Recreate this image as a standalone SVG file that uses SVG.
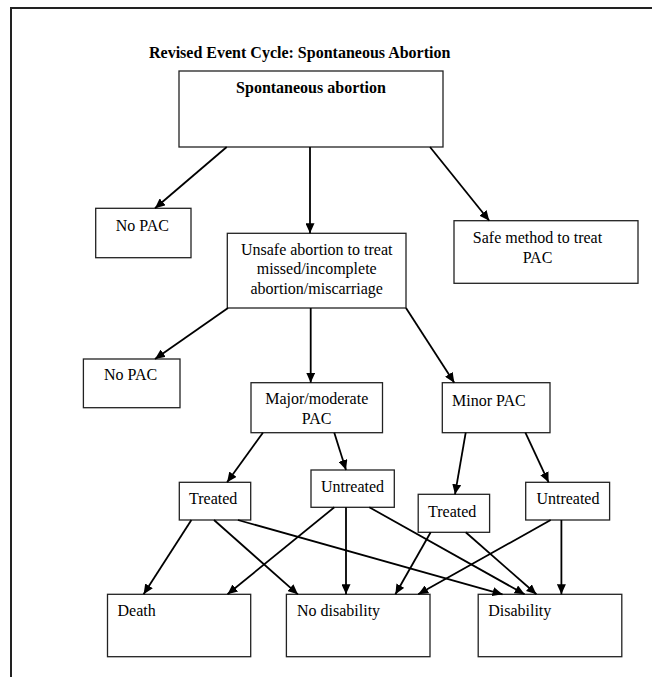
<svg xmlns="http://www.w3.org/2000/svg" width="652" height="677" viewBox="0 0 652 677">
<style>
.box{fill:#fff;stroke:#222;stroke-width:1.3}
.t{font-family:"Liberation Serif","Times New Roman",serif;font-size:16px;fill:#000}
.b{font-weight:bold}
.m{text-anchor:middle}
.c{fill:none;stroke:#000;stroke-width:1.8}
</style>
<defs>
<marker id="ah" markerUnits="userSpaceOnUse" markerWidth="11" markerHeight="9" refX="10" refY="4.5" orient="auto">
<path d="M0,0 L10,4.5 L0,9 z" fill="#000"/>
</marker>
</defs>
<rect x="0" y="0" width="652" height="677" fill="#fff"/>
<path d="M11,677 V8 H652" fill="none" stroke="#222" stroke-width="2"/>
<text class="t b" x="149" y="58">Revised Event Cycle: Spontaneous Abortion</text>

<g id="n-top"><rect class="box" x="179" y="71" width="264" height="76"/><text class="t b m" x="311" y="93">Spontaneous abortion</text></g>
<g id="n-nopac1"><rect class="box" x="95.7" y="208.3" width="95.3" height="49.4"/><text class="t" x="115.7" y="230.5">No PAC</text></g>
<g id="n-unsafe"><rect class="box" x="227.3" y="233.3" width="178.7" height="74.7"/><text class="t m" x="316.7" y="254.5">Unsafe abortion to treat</text><text class="t m" x="316.7" y="274">missed/incomplete</text><text class="t m" x="316.7" y="293.5">abortion/miscarriage</text></g>
<g id="n-safe"><rect class="box" x="454" y="220.7" width="184" height="62.6"/><text class="t m" x="537.5" y="242.5">Safe method to treat</text><text class="t m" x="537.5" y="263">PAC</text></g>
<g id="n-nopac2"><rect class="box" x="83.4" y="359" width="96.6" height="48.7"/><text class="t" x="104" y="380">No PAC</text></g>
<g id="n-major"><rect class="box" x="251" y="382.7" width="131.5" height="50"/><text class="t m" x="316.7" y="404">Major/moderate</text><text class="t m" x="316.7" y="423.5">PAC</text></g>
<g id="n-minor"><rect class="box" x="442.3" y="382.7" width="107.7" height="50"/><text class="t" x="452" y="405.5">Minor PAC</text></g>
<g id="n-treated1"><rect class="box" x="179.3" y="482.3" width="71.4" height="37.7"/><text class="t" x="189" y="504">Treated</text></g>
<g id="n-untreated1"><rect class="box" x="311" y="470" width="83.3" height="37.3"/><text class="t" x="321" y="492">Untreated</text></g>
<g id="n-treated2"><rect class="box" x="418.2" y="494.3" width="71.4" height="38"/><text class="t" x="428" y="516.5">Treated</text></g>
<g id="n-untreated2"><rect class="box" x="525.7" y="482.3" width="83.9" height="37.7"/><text class="t" x="536.4" y="504">Untreated</text></g>
<g id="n-death"><rect class="box" x="107.5" y="594.3" width="143.2" height="62.4"/><text class="t" x="117.5" y="615.5">Death</text></g>
<g id="n-nodis"><rect class="box" x="286.4" y="594.3" width="143.6" height="62.4"/><text class="t" x="297" y="615.5">No disability</text></g>
<g id="n-dis"><rect class="box" x="478.2" y="594.3" width="143.6" height="62.4"/><text class="t" x="488.2" y="615.5">Disability</text></g>

<g id="connectors" class="c" marker-end="url(#ah)">
<line class="c" marker-end="url(#ah)" x1="226.7" y1="147" x2="155" y2="208.3"/>
<line class="c" marker-end="url(#ah)" x1="310" y1="147" x2="310" y2="233.3"/>
<line class="c" marker-end="url(#ah)" x1="430" y1="147" x2="489.3" y2="220.7"/>
<line class="c" marker-end="url(#ah)" x1="228" y1="308" x2="155" y2="359"/>
<line class="c" marker-end="url(#ah)" x1="310.7" y1="308" x2="310.7" y2="382.7"/>
<line class="c" marker-end="url(#ah)" x1="406" y1="308" x2="454.3" y2="382.7"/>
<line class="c" marker-end="url(#ah)" x1="262.9" y1="432.7" x2="227.1" y2="482.3"/>
<line class="c" marker-end="url(#ah)" x1="334.3" y1="432.7" x2="346" y2="470"/>
<line class="c" marker-end="url(#ah)" x1="465.7" y1="432.7" x2="455" y2="494.3"/>
<line class="c" marker-end="url(#ah)" x1="525.4" y1="432.7" x2="548.6" y2="482.3"/>
<line class="c" marker-end="url(#ah)" x1="191.4" y1="520" x2="143.6" y2="594.3"/>
<line class="c" marker-end="url(#ah)" x1="214" y1="520" x2="297.9" y2="594.3"/>
<line class="c" marker-end="url(#ah)" x1="237.9" y1="520" x2="502.5" y2="594.3"/>
<line class="c" marker-end="url(#ah)" x1="334.3" y1="507.3" x2="227.5" y2="594.3"/>
<line class="c" marker-end="url(#ah)" x1="346" y1="507.3" x2="346" y2="594.3"/>
<line class="c" marker-end="url(#ah)" x1="369.3" y1="507.3" x2="524.6" y2="594.3"/>
<line class="c" marker-end="url(#ah)" x1="430.7" y1="532.3" x2="395.4" y2="594.3"/>
<line class="c" marker-end="url(#ah)" x1="465.7" y1="532.3" x2="536.4" y2="594.3"/>
<line class="c" marker-end="url(#ah)" x1="550.7" y1="520" x2="418.2" y2="594.3"/>
<line class="c" marker-end="url(#ah)" x1="561.4" y1="520" x2="561.4" y2="594.3"/>
</g>
</svg>
